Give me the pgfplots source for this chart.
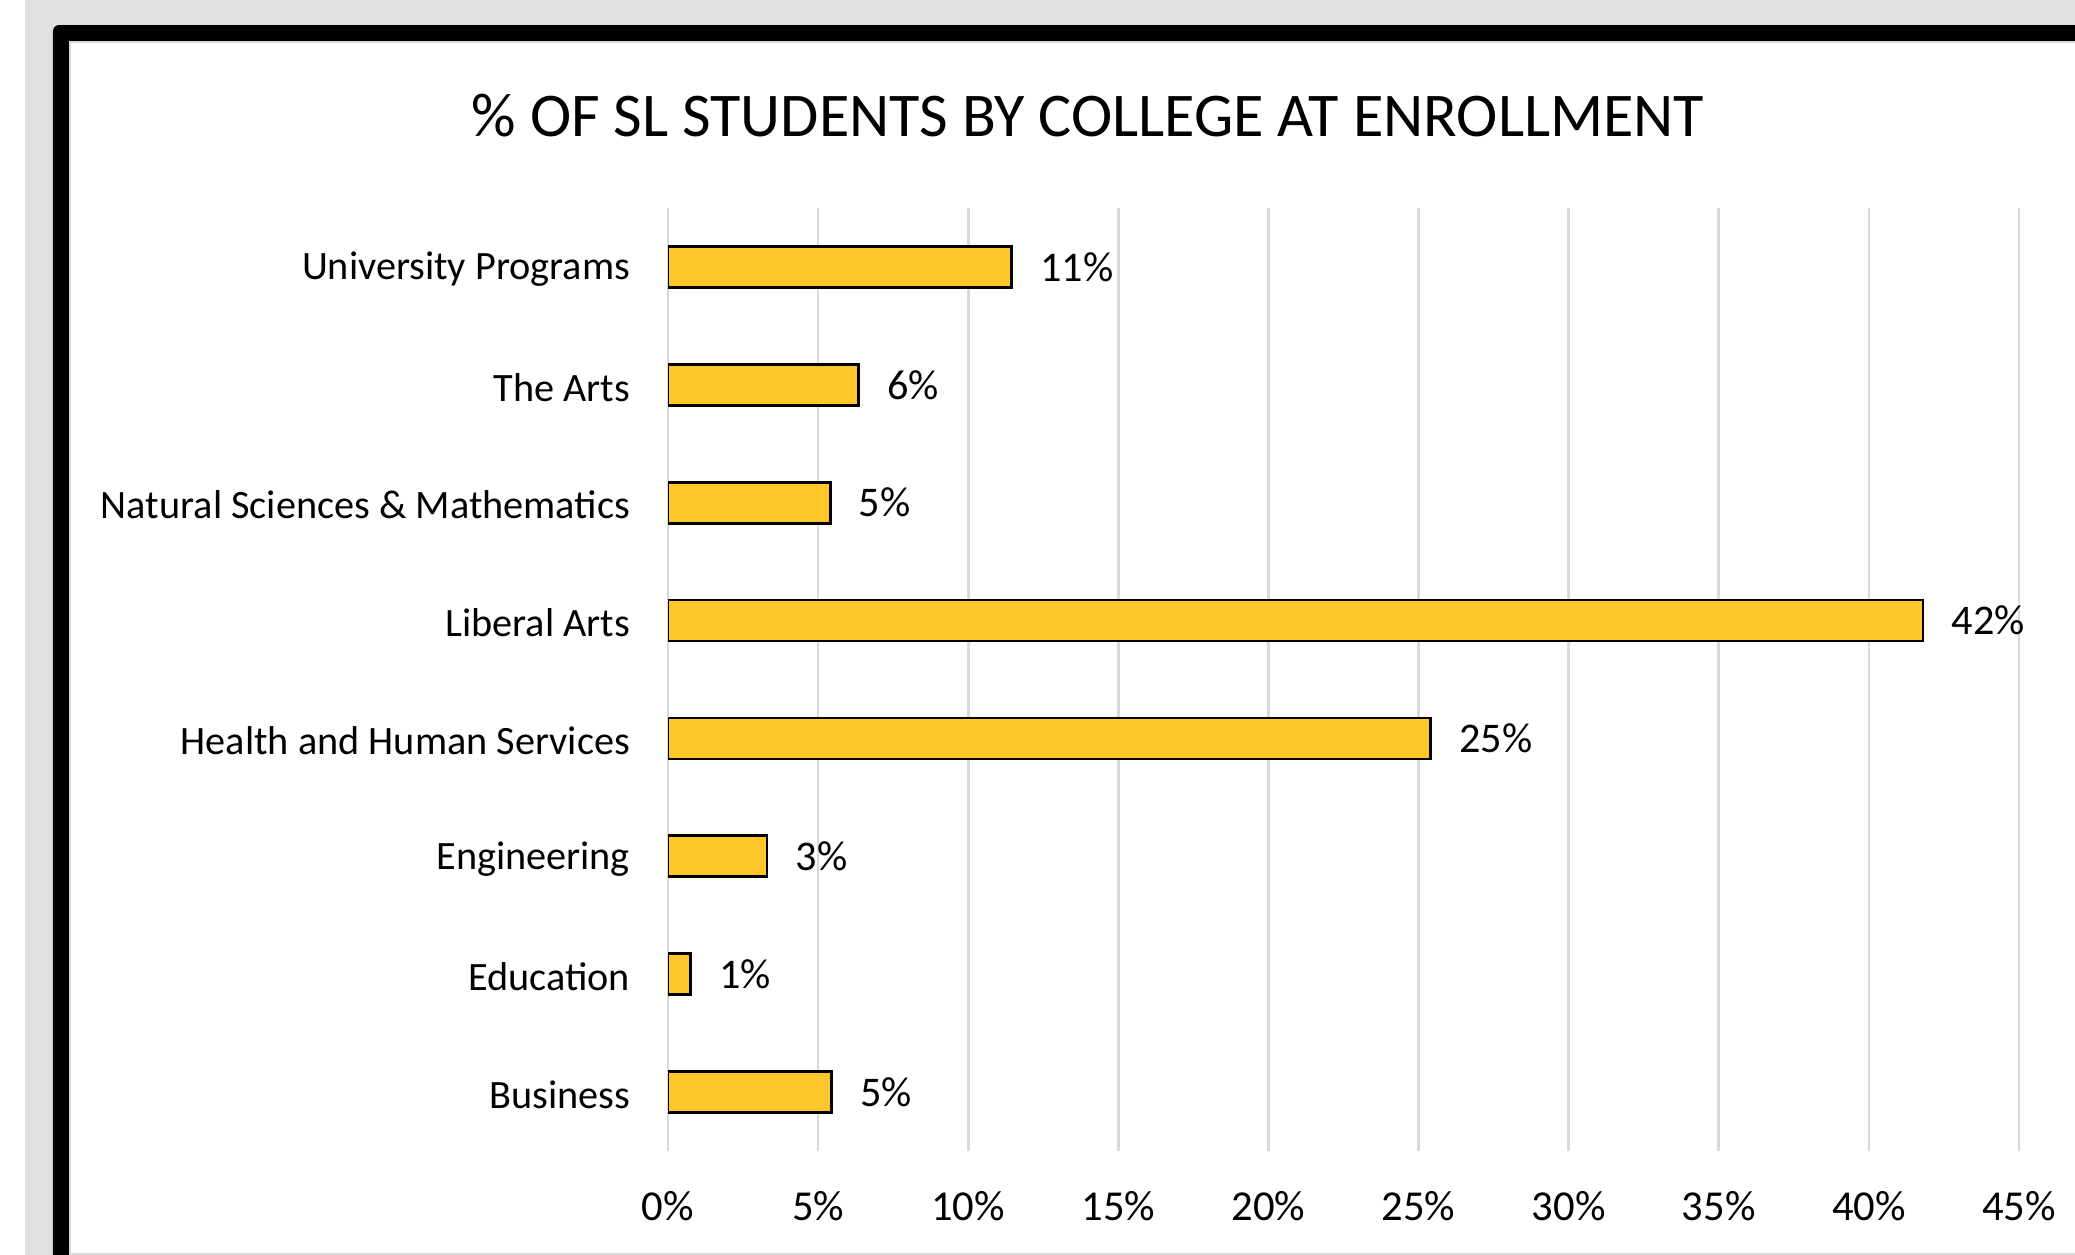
\documentclass[border=0pt]{standalone}
\usepackage{pgfplots}
\pgfplotsset{compat=1.18}
\usepackage{fontspec}
\setmainfont{Carlito}
\definecolor{barfill}{RGB}{255,198,41}
\definecolor{bggray}{RGB}{224,224,224}
\definecolor{gridgray}{RGB}{217,217,217}
\begin{document}
\begin{tikzpicture}
\useasboundingbox (0,0) rectangle (518.75bp,313.75bp);
\begin{scope}[x=0.25bp,y=0.25bp]
\fill[white] (0,0) rectangle (2075,1255);
\fill[bggray] (25,0) rectangle (2075,1255);
\fill[black, rounded corners=1.5bp] (53,-20) rectangle (2100,1230);
\fill[gridgray] (69,0) rectangle (2075,1214);
\fill[white] (71,2) rectangle (2075,1212);
\end{scope}
\node[font=\fontsize{15.6}{18}\selectfont] at (272bp,284.75bp) {\% OF SL STUDENTS BY COLLEGE AT ENROLLMENT};
\begin{axis}[
  at={(167bp,26bp)}, anchor=south west,
  scale only axis, width=337.75bp, height=235.75bp,
  xbar, bar width=10.25bp,
  xmin=0, xmax=45, ymin=-0.5, ymax=7.5,
  xtick={0,5,...,45},
  xticklabel={\pgfmathprintnumber{\tick}\%},
  ytick={0,...,7},
  yticklabels={Business,Education,Engineering,Health and Human Services,Liberal Arts,Natural Sciences \& Mathematics,The Arts,University Programs},
  axis line style={draw=none},
  major tick length=0pt,
  xmajorgrids, grid style={gridgray, line width=0.65bp},
  /pgf/number format/assume math mode=true,
  xticklabel style={font=\fontsize{10.7}{12}\selectfont, black, yshift=-6.5bp},
  yticklabel style={font=\fontsize{10.1}{12}\selectfont, black, xshift=-6bp, yshift=-0.6bp},
  nodes near coords={\pgfmathprintnumber[fixed,precision=0]{\pgfplotspointmeta}\%},
  nodes near coords style={font=\fontsize{10.6}{12}\selectfont, black, anchor=west, xshift=3.5bp},
  point meta=explicit,
]
\addplot[fill=barfill, draw=black, line width=0.7bp] coordinates {
  (5.45,0) [5.45]
  (0.75,1) [0.75]
  (3.3,2) [3.3]
  (25.4,3) [25.4]
  (41.8,4) [41.8]
  (5.4,5) [5.4]
  (6.35,6) [6.35]
  (11.45,7) [11.45]
};
\end{axis}
\end{tikzpicture}
\end{document}
